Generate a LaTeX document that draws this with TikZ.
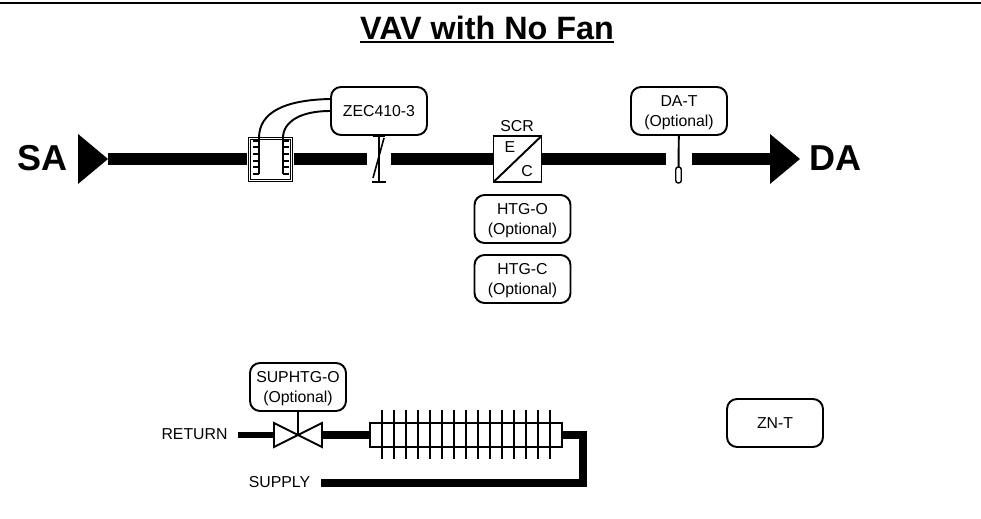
\documentclass[tikz,border=0pt]{standalone}
\usepackage{fontspec}
\setmainfont{Liberation Sans}
\begin{document}
\begin{tikzpicture}[x=.02cm,y=-.02cm]
	\tikzset{tag/.style = {shape=rectangle,draw,line width=1.1pt,rounded corners=.2cm,minimum width=1.92cm,minimum height=.96cm,inner sep=0pt,align=center,text depth=0pt,font=\fontsize{9}{11.2}\selectfont}}
	\tikzset{lbl/.style = {inner sep=0pt,font=\fontsize{9}{10.8}\selectfont}}
	\tikzset{big/.style = {inner sep=0pt,font=\fontsize{20.5}{24}\selectfont\bfseries}}
	\tikzset{duct/.style = {line width=6.8pt}}
	\tikzset{wire/.style = {line width=1.1pt}}
	\useasboundingbox (0,0) rectangle (981,519);
	% title and top rule
	\coordinate (ruleL) at (0,3);
	\coordinate (ruleR) at (981,3);
	\path[draw,line width=1.4pt] (ruleL) edge (ruleR);
	\node[inner sep=0pt,font=\fontsize{18.4}{22}\selectfont\bfseries] (title) at (487,28) {VAV with No Fan};
	\path[draw,line width=1.1pt] ([yshift=-.05cm]title.base west) -- ([yshift=-.05cm]title.base east);
	% air stream
	\node[big] (sa) at (42.5,158) {SA};
	\node[big] (da) at (835.5,158) {DA};
	\coordinate (satip) at (108,159);
	\coordinate (dabase) at (770,159);
	\fill (78,134) -- (satip) -- (78,184) -- cycle;
	\fill (dabase) -- (770,134) -- (800,159) -- (770,184) -- cycle;
	\node[draw,line width=.7pt,double,double distance=.3pt,minimum width=.84cm,minimum height=.84cm,inner sep=0pt,outer sep=.05cm] (sensor) at (270.5,159.5) {};
	\node[draw,fill=white,line width=1.1pt,minimum width=.96cm,minimum height=.92cm,inner sep=0pt,outer sep=0pt] (scr) at (517.5,159) {};
	\coordinate (dmpL) at (367,159);
	\coordinate (dmpR) at (391,159);
	\coordinate (probeL) at (666,159);
	\coordinate (probeR) at (692,159);
	\path[draw,duct] (satip) edge (sensor.west |- satip);
	\path[draw,duct] (sensor.east |- dmpL) edge (dmpL);
	\path[draw,duct] (dmpR) edge (scr);
	\path[draw,duct] (scr) edge (probeL);
	\path[draw,duct] (probeR) edge (dabase);
	% sensor pipes
	\node[tag] (zec) at (379,111) {ZEC410-3};
	\coordinate (pipeA) at (259,174);
	\coordinate (pipeB) at (283,174);
	\path[draw,wire] (pipeA) -- (259,138) .. controls (259,112) and (285,100) .. (zec.west |- 0,99);
	\path[draw,wire] (pipeB) -- (283,138) .. controls (283,122) and (300,111) .. (zec.west);
	\foreach \i in {141,147,154,161,167,174} {
		\draw[line width=.8pt] (253,\i) -- (259,\i);
		\draw[line width=.8pt] (283,\i) -- (289,\i);
	}
	% damper
	\coordinate (dmpEnd) at (379,182);
	\path[draw,wire] (zec) edge (dmpEnd);
	\draw[line width=.9pt] (373,136) -- (385,136);
	\draw[line width=.9pt] (372,182) -- (386,182);
	\draw[line width=.9pt] (373,178) -- (384,138);
	% SCR
	\draw[wire] (scr.south west) -- (scr.north east);
	\node[lbl] (scrname) at (517,126) {SCR};
	\node[lbl] (scre) at (510,147) {E};
	\node[lbl] (scrc) at (527,171) {C};
	\node[tag] (htgo) at (522.5,219) {HTG-O\\(Optional)};
	\node[tag] (htgc) at (522.5,279) {HTG-C\\(Optional)};
	% discharge probe
	\node[tag] (dat) at (679,111) {DA-T\\(Optional)};
	\node[draw,line width=.8pt,rounded corners=.05cm,minimum width=.11cm,minimum height=.32cm,inner sep=0pt,outer sep=0pt] (bulb) at (678.5,175) {};
	\path[draw,wire] (dat) edge (bulb);
	% heating coil
	\node[lbl] (ret) at (194.5,434) {RETURN};
	\node[lbl] (sup) at (279.5,482) {SUPPLY};
	\node[tag] (valvetag) at (298,387) {SUPHTG-O\\(Optional)};
	\node[tag] (znt) at (775,423) {ZN-T};
	\coordinate (retend) at (238,435);
	\coordinate (valveL) at (274,435);
	\coordinate (valveM) at (298,435);
	\coordinate (valveR) at (322,435);
	\coordinate (supend) at (321,483);
	\coordinate (bendA) at (583,435);
	\coordinate (bendB) at (583,483);
	\foreach \x in {382,394,...,550} {
		\draw[line width=1.1pt] (\x,410) -- (\x,459);
	}
	\node[draw,line width=1.1pt,minimum width=3.84cm,minimum height=.48cm,inner sep=0pt,outer sep=0pt] (coil) at (466,435) {};
	\path[draw,line width=3.4pt] (retend) edge (valveL);
	\path[draw,line width=4.5pt] (valveR) edge (coil);
	\path[draw,line width=4.5pt] (coil.east) -- (bendA) -- (bendB) -- (supend);
	\draw[line width=1.1pt] (valveM) -- (274,423) -- (274,447) -- cycle;
	\draw[line width=1.1pt] (valveM) -- (322,423) -- (322,447) -- cycle;
	\path[draw,wire] (valvetag) edge (valveM);
\end{tikzpicture}
\end{document}
